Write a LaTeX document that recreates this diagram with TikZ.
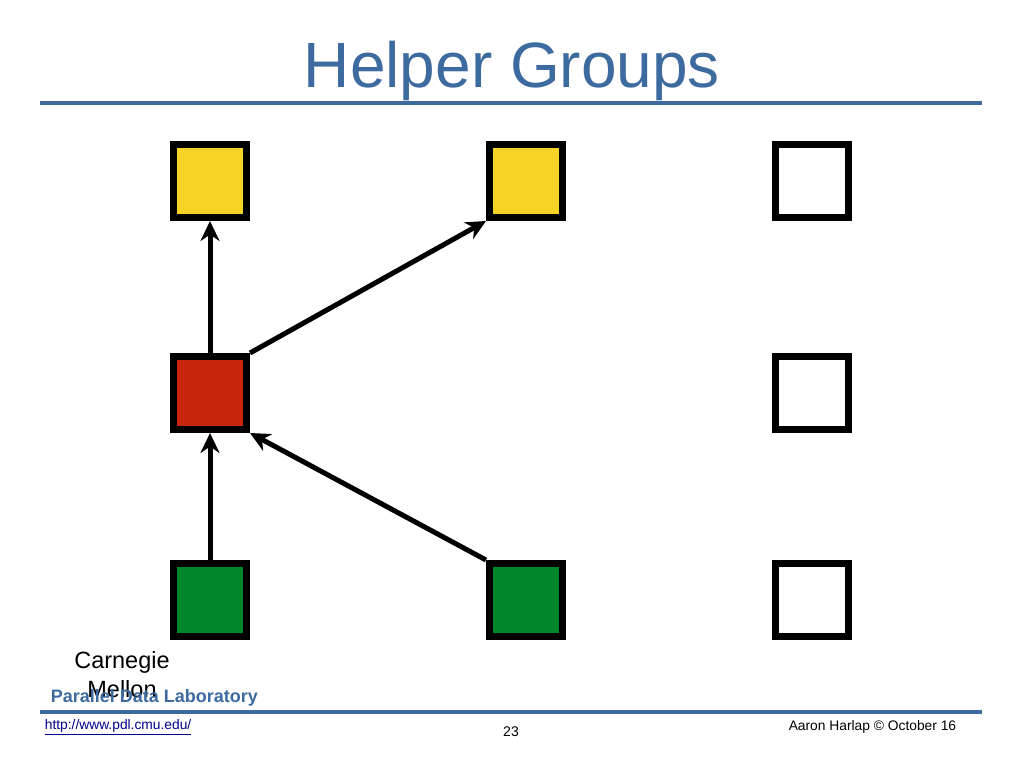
\documentclass[tikz,border=0pt]{standalone}
\usepackage{fontspec}
\setmainfont{Liberation Sans}
\usepackage{tikz}
\usetikzlibrary{positioning,arrows.meta}

\definecolor{pdlblue}{HTML}{3D6BA0}
\definecolor{hyellow}{HTML}{F5D327}
\definecolor{hred}{HTML}{C8260C}
\definecolor{hgreen}{HTML}{00862B}

\begin{document}
\begin{tikzpicture}[x=1pt,y=-1pt,->,>={Stealth[length=20pt,width=19pt]},
                    line width=5pt,
                    member/.style={rectangle,draw=black,line width=7pt,minimum size=73pt,inner sep=0pt},
                    rule/.style={-,draw=pdlblue,line width=4.5pt}
                   ]
  \useasboundingbox (0,0) rectangle (1024,768);

  % title
  \node (title) at (512,71) {\fontsize{64}{76}\selectfont\color{pdlblue}Helper Groups};
  \coordinate (tl) at (40,103);
  \coordinate (tr) at (982,103);
  \draw[rule] (tl) -- (tr);

  % helpers
  \node[member,fill=hyellow] (y1) at (210,181) {};
  \node[member,fill=hyellow] (y2) at (526,181) {};
  \node[member,fill=white]   (w1) at (812,181) {};
  \node[member,fill=hred]    (r)  at (210,393) {};
  \node[member,fill=white]   (w2) at (812,393) {};
  \node[member,fill=hgreen]  (g1) at (210,600) {};
  \node[member,fill=hgreen]  (g2) at (526,600) {};
  \node[member,fill=white]   (w3) at (812,600) {};

  \path
    (g1) edge (r)
    (r)  edge (y1)
    (r.north east) edge (y2.south west)
    (g2.north west) edge (r.south east);

  % footer
  \node[align=center,font=\fontsize{23.5}{29}\selectfont] (cmu) at (122,675) {Carnegie\\Mellon};
  \node[anchor=west,font=\fontsize{18}{20}\selectfont\bfseries,text=pdlblue] (pdl) at (45,698) {Parallel Data Laboratory};
  \coordinate (bl) at (40,712);
  \coordinate (br) at (982,712);
  \draw[rule] (bl) -- (br);
  \node[anchor=west,font=\fontsize{13.8}{15}\selectfont,text=blue!55!black] (url) at (39,727) {\underline{http://www.pdl.cmu.edu/}};
  \node[font=\fontsize{14}{16}\selectfont] (page) at (511,732) {23};
  \node[anchor=east,font=\fontsize{13.8}{16}\selectfont] (author) at (962,727) {Aaron Harlap © October 16};
\end{tikzpicture}
\end{document}
